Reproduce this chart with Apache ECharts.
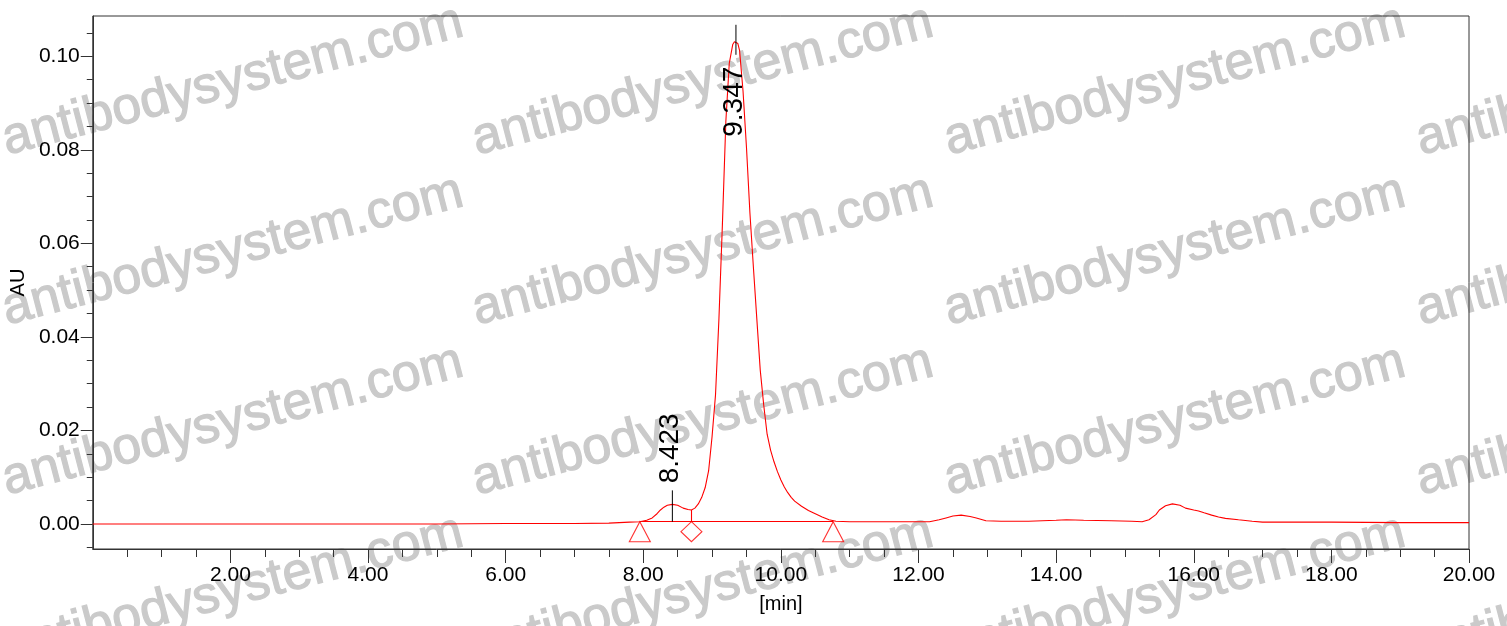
<!DOCTYPE html>
<html><head><meta charset="utf-8">
<script src="https://cdn.jsdelivr.net/npm/echarts@6/dist/echarts.min.js"></script>
<style>html,body{margin:0;padding:0;background:#fff}#c{width:1507px;height:626px}</style>
</head><body><div id="c"></div>
<script>
// ---- data ----
const times = [0,1,2,3,4,5,6,6.5,7,7.5,7.8,7.95,8.05,8.13,8.2,8.25,8.3,8.35,8.423,8.5,8.58,8.65,8.70,8.75,8.80,8.85,8.90,8.95,9.00,9.05,9.10,9.15,9.20,9.25,9.30,9.325,9.347,9.375,9.40,9.45,9.50,9.55,9.60,9.65,9.70,9.75,9.80,9.85,9.90,9.95,10.00,10.05,10.10,10.15,10.20,10.30,10.40,10.50,10.60,10.70,10.80,11.0,11.5,12.0,12.16,12.3,12.4,12.5,12.62,12.75,12.84,12.98,13.2,13.6,14.0,14.15,14.4,14.8,15.1,15.25,15.35,15.45,15.5,15.59,15.69,15.8,15.88,16.0,16.07,16.15,16.26,16.36,16.46,16.65,16.85,17.0,17.5,18,19,20];
const absorbance = [0.0000,0.0000,0.0000,0.0000,0.0000,0.0000,0.0001,0.0001,0.0001,0.0002,0.0004,0.0005,0.0008,0.0013,0.0022,0.0030,0.0036,0.0040,0.0042,0.0040,0.0034,0.0031,0.0030,0.0034,0.0043,0.0057,0.0078,0.0114,0.0187,0.0276,0.0440,0.0640,0.0860,0.0985,0.1025,0.1031,0.1033,0.1027,0.1012,0.0925,0.0805,0.0665,0.0550,0.0439,0.0329,0.0255,0.0192,0.0158,0.0133,0.0112,0.0094,0.0079,0.0067,0.0057,0.0049,0.0038,0.0029,0.0022,0.0015,0.0009,0.0006,0.0005,0.0005,0.0005,0.0005,0.0009,0.0013,0.0017,0.0019,0.0016,0.0013,0.0007,0.0006,0.0006,0.0008,0.0009,0.0008,0.0007,0.0006,0.0005,0.0009,0.0020,0.0030,0.0039,0.0043,0.0040,0.0034,0.0030,0.0028,0.0024,0.0019,0.0015,0.0012,0.0009,0.0006,0.0004,0.0004,0.0004,0.0003,0.0003];

const peakTimes = [8.423, 9.347];
const peakHeights = [0.0042, 0.1033];
const peakLabels = ['8.423', '9.347'];

const integrationTimes = [7.95, 10.76];   // triangle events (start / end)
const integrationLevel = 0.0005;
const valleyTimes = [8.70];               // diamond (drop) event
const valleyTraceLevels = [0.0030];

const xMajorTicks = [2,4,6,8,10,12,14,16,18,20];
const xMinorTicks = [0.5,1,1.5,2.5,3,3.5,4.5,5,5.5,6.5,7,7.5,8.5,9,9.5,10.5,11,11.5,12.5,13,13.5,14.5,15,15.5,16.5,17,17.5,18.5,19,19.5];
const yMajorTicks = [0,0.02,0.04,0.06,0.08,0.10];
const yMinorTicks = [-0.005,0.005,0.01,0.015,0.025,0.03,0.035,0.045,0.05,0.055,0.065,0.07,0.075,0.085,0.09,0.095,0.105];

const watermarkText = 'antibodysystem.com';
const watermarkCols = [8, 478, 950, 1422];
const watermarkRows = [158, 328, 498, 668];

// ---- styling ----
const FONT = 'Liberation Sans, Arial, sans-serif';
const RED = '#ff0000';
const AXIS = '#333333';
const peakMarkStyle = [
  {fromBaseline: true, lineTop: -14, textStart: -21},
  {fromBaseline: false, lineTop: -16, lineBottom: 14, textStart: 96}
];

const chart = echarts.init(document.getElementById('c'), null, {renderer: 'canvas'});

const wmAngle = 14.6 * Math.PI / 180;
const graphics = [];
watermarkCols.forEach(cx => watermarkRows.forEach(ry => {
  graphics.push({
    type: 'text', x: cx + 2, y: ry + 8, rotation: wmAngle, z: -10, silent: true,
    style: {text: watermarkText, fill: '#cacaca', stroke: '#cacaca', lineWidth: 1.2,
      font: '52px ' + FONT, align: 'left', verticalAlign: 'bottom'}
  });
}));

const grid = {left: 92, right: 38, top: 16, bottom: 77, show: true, borderColor: AXIS, borderWidth: 1, backgroundColor: 'transparent'};

function xAxisBase() {
  return {type: 'value', gridIndex: 0, min: 0, max: 20, position: 'bottom', splitLine: {show: false}};
}
function yAxisBase() {
  return {type: 'value', gridIndex: 0, min: -0.00534, max: 0.1086, position: 'left', splitLine: {show: false}};
}

const option = {
  animation: false,
  backgroundColor: '#ffffff',
  graphic: graphics,
  grid: grid,
  xAxis: [
    Object.assign(xAxisBase(), {
      name: '[min]', nameLocation: 'middle', nameGap: 45,
      nameTextStyle: {color: '#000', fontSize: 20, fontFamily: FONT},
      axisLine: {show: true, onZero: false, lineStyle: {color: AXIS, width: 1}},
      axisTick: {show: true, length: 14, customValues: xMajorTicks, lineStyle: {color: AXIS}},
      axisLabel: {show: true, customValues: xMajorTicks, margin: 16, color: '#000', fontSize: 21, fontFamily: FONT,
        formatter: v => Number(v).toFixed(2)}
    }),
    Object.assign(xAxisBase(), {
      axisLine: {show: false, onZero: false},
      axisTick: {show: true, length: 8, customValues: xMinorTicks, lineStyle: {color: AXIS}},
      axisLabel: {show: false, customValues: xMinorTicks}
    })
  ],
  yAxis: [
    Object.assign(yAxisBase(), {
      name: 'AU', nameLocation: 'middle', nameGap: 64,
      nameTextStyle: {color: '#000', fontSize: 20, fontFamily: FONT},
      axisLine: {show: true, onZero: false, lineStyle: {color: AXIS, width: 1}},
      axisTick: {show: true, length: 12, customValues: yMajorTicks, lineStyle: {color: AXIS}},
      axisLabel: {show: true, customValues: yMajorTicks, margin: 13, color: '#000', fontSize: 21, fontFamily: FONT,
        formatter: v => Number(v).toFixed(2)}
    }),
    Object.assign(yAxisBase(), {
      axisLine: {show: false, onZero: false},
      axisTick: {show: true, length: 6, customValues: yMinorTicks, lineStyle: {color: AXIS}},
      axisLabel: {show: false, customValues: yMinorTicks}
    })
  ],
  series: [
    {
      type: 'line', name: 'trace', xAxisIndex: 0, yAxisIndex: 0, z: 5,
      data: times.map((t, i) => [t, absorbance[i]]),
      showSymbol: false, symbol: 'none', smooth: false,
      lineStyle: {color: RED, width: 1.1},
      markLine: {
        silent: true, symbol: ['none', 'none'], animation: false,
        label: {show: false},
        lineStyle: {color: RED, width: 1.1, type: 'solid'},
        data: [
          [{coord: [integrationTimes[0], integrationLevel]}, {coord: [integrationTimes[1], integrationLevel]}],
          ...valleyTimes.map((t, i) => [{coord: [t, integrationLevel]}, {coord: [t, valleyTraceLevels[i]]}])
        ]
      }
    },
    {
      type: 'scatter', name: 'events', xAxisIndex: 0, yAxisIndex: 0, z: 6,
      data: integrationTimes.map(t => [t, integrationLevel]),
      symbol: 'triangle', symbolSize: [21, 20], symbolOffset: [0, 10],
      itemStyle: {color: 'rgba(255,255,255,0)', borderColor: RED, borderWidth: 1.1}
    },
    {
      type: 'scatter', name: 'valleys', xAxisIndex: 0, yAxisIndex: 0, z: 6,
      data: valleyTimes.map(t => [t, integrationLevel]),
      symbol: 'diamond', symbolSize: [21, 20], symbolOffset: [0, 10],
      itemStyle: {color: 'rgba(255,255,255,0)', borderColor: RED, borderWidth: 1.1}
    },
    {
      type: 'custom', name: 'peaks', xAxisIndex: 0, yAxisIndex: 0, z: 7, clip: false,
      data: peakTimes.map((t, i) => [t, peakHeights[i]]),
      renderItem: function (params, api) {
        const i = params.dataIndex;
        const st = peakMarkStyle[i];
        const p = api.coord([api.value(0), api.value(1)]);
        let yA, yB;
        if (st.fromBaseline) {
          yA = api.coord([api.value(0), integrationLevel])[1];
          yB = p[1] + st.lineTop;
        } else {
          yA = p[1] + st.lineBottom;
          yB = p[1] + st.lineTop;
        }
        return {
          type: 'group',
          children: [
            {type: 'line', shape: {x1: p[0], y1: yA, x2: p[0], y2: yB}, style: {stroke: '#000', lineWidth: 1}},
            {type: 'text', x: p[0] - 2, y: p[1] + st.textStart, rotation: Math.PI / 2,
              style: {text: peakLabels[i], fill: '#000', font: '28px ' + FONT, align: 'left', verticalAlign: 'middle'}}
          ]
        };
      }
    }
  ]
};
chart.setOption(option);
</script></body></html>
